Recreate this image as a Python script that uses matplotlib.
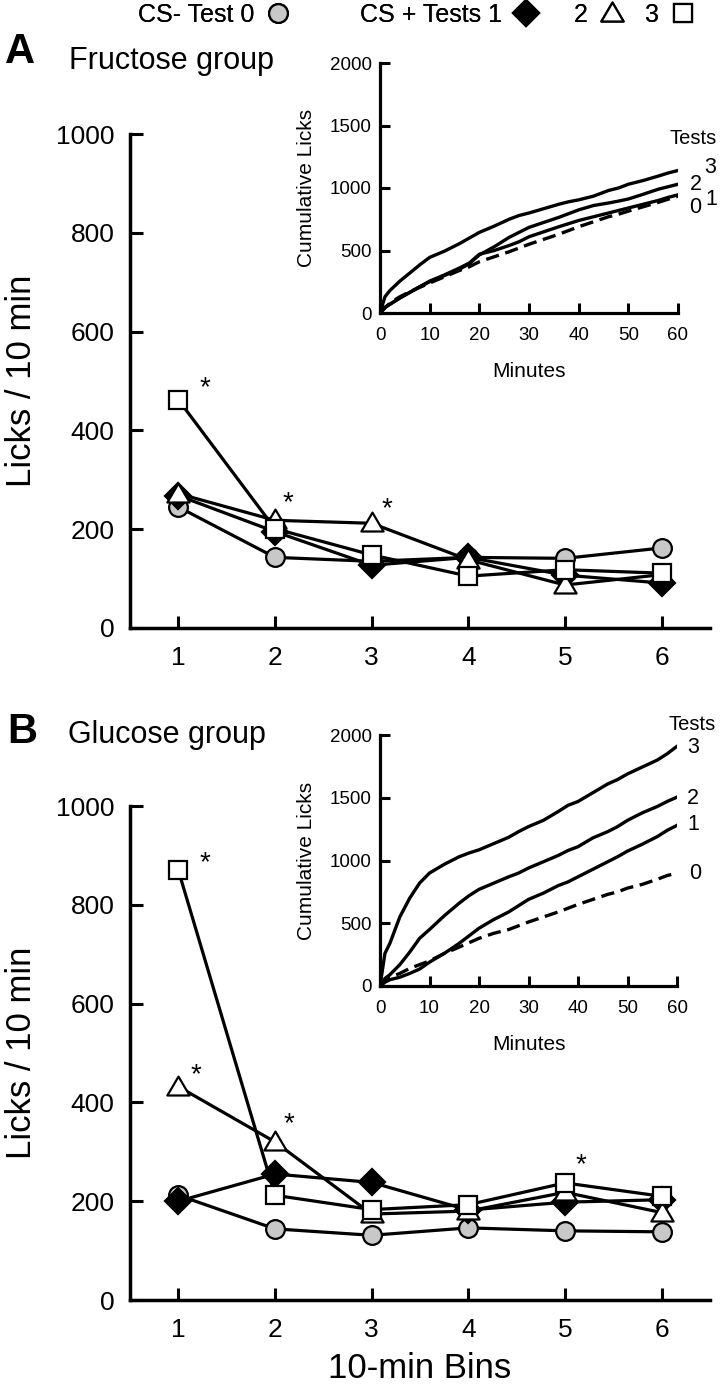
import matplotlib
matplotlib.use("Agg")
import matplotlib.pyplot as plt
from matplotlib.lines import Line2D
from matplotlib.path import Path

plt.rcParams["font.family"] = ["Liberation Sans", "DejaVu Sans"]

# ---- main panels: licks per 10-min bin ----
BINS = [1, 2, 3, 4, 5, 6]

fru_t0 = [245, 143, 135, 143, 141, 162]
fru_t1 = [268, 195, 127, 143, 107, 91]
fru_t2 = [272, 218, 212, 138, 87, 108]
fru_t3 = [462, 201, 148, 105, 118, 111]

glu_t0 = [212, 144, 131, 146, 140, 138]
glu_t1 = [200, 255, 238, 182, 198, 203]
glu_t2 = [432, 320, 174, 180, 218, 177]
glu_t3 = [870, 212, 183, 193, 237, 210]

# significance stars (bin, y)
fru_stars = [(1.27, 485), (2.13, 252), (3.16, 240)]
glu_stars = [(1.27, 885), (1.18, 455), (2.14, 355), (5.16, 272)]

# ---- insets: cumulative licks over 60 min ----
MINUTES = [0, 1, 2, 4, 6, 8, 10, 13, 16, 18, 20, 23, 26, 28, 30,
           33, 36, 38, 40, 43, 46, 48, 50, 53, 56, 58, 60]

fru_cum0 = [0, 40, 80, 130, 170, 205, 240, 290, 340, 370, 410, 450, 490, 520,
            550, 590, 630, 660, 690, 730, 770, 790, 815, 850, 885, 910, 935]
fru_cum1 = [0, 45, 70, 120, 165, 210, 255, 305, 360, 400, 470, 500, 540, 570,
            610, 650, 690, 715, 740, 770, 800, 820, 840, 870, 900, 925, 945]
fru_cum2 = [0, 45, 70, 120, 165, 210, 250, 300, 350, 395, 465, 530, 605, 645,
            685, 725, 765, 795, 825, 860, 880, 895, 912, 950, 990, 1010, 1030]
fru_cum3 = [0, 130, 180, 255, 320, 385, 445, 495, 555, 600, 645, 695, 750,
            780, 800, 835, 870, 890, 905, 935, 980, 1000, 1030, 1060, 1095,
            1120, 1140]

glu_cum0 = [0, 40, 70, 100, 140, 170, 200, 260, 310, 345, 380, 420, 450, 480,
            510, 550, 590, 620, 650, 690, 730, 750, 780, 810, 850, 880, 900]
glu_cum1 = [0, 30, 50, 70, 100, 135, 190, 260, 340, 400, 460, 530, 590, 640,
            690, 740, 800, 830, 870, 930, 990, 1030, 1075, 1130, 1190, 1240,
            1280]
glu_cum2 = [0, 60, 90, 170, 270, 380, 450, 560, 660, 720, 770, 820, 870, 900,
            940, 990, 1040, 1080, 1110, 1180, 1230, 1270, 1320, 1380, 1430,
            1470, 1505]
glu_cum3 = [0, 260, 340, 550, 700, 820, 900, 970, 1030, 1060, 1085, 1135,
            1185, 1230, 1270, 1320, 1390, 1440, 1470, 1540, 1610, 1645, 1690,
            1745, 1800, 1850, 1910]

# end labels for inset curves: (label, x, y)
fru_tags = [("3", 66.4, 1163), ("2", 63.6, 1028), ("1", 66.8, 908), ("0", 63.4, 845)]
glu_tags = [("3", 63.2, 1904), ("2", 63.2, 1498), ("1", 63.2, 1283), ("0", 63.6, 900)]

LEGEND_LABELS = ["CS- Test 0", "CS + Tests 1", "2", "3"]

W, H = 720, 1392
LW = 2.3
GREY = "#c8c8c8"
# wide, equilateral-ish open triangle
TRI = Path([(-1, -0.72), (1, -0.72), (0, 0.98), (-1, -0.72)], closed=True)
STYLES = [  # circle, diamond, triangle, square
    dict(marker="o", ms=13.5, mfc=GREY),
    dict(marker="D", ms=13, mfc="black"),
    dict(marker=TRI, ms=16, mfc="white"),
    dict(marker="s", ms=13, mfc="white"),
]


def box(x0, y0, x1, y1):
    """pixel box (top-left origin) -> figure fraction rect"""
    return [x0 / W, 1 - y1 / H, (x1 - x0) / W, (y1 - y0) / H]


def style_axes(ax, lw=2.5):
    for s in ("top", "right"):
        ax.spines[s].set_visible(False)
    for s in ("left", "bottom"):
        ax.spines[s].set_linewidth(lw)


def main_panel(ax, series, stars):
    for y, st in zip(series, STYLES):
        ax.plot(BINS, y, color="black", lw=LW, mec="black", mew=1.6, **st)
    for x, y in stars:
        ax.text(x, y, "*", fontsize=20, ha="center", va="center")
    ax.set_xlim(0.5, 6.5)
    ax.set_ylim(0, 1000)
    ax.set_xticks(BINS)
    ax.set_yticks(range(0, 1001, 200))
    style_axes(ax)
    ax.tick_params(direction="in", length=9, width=2.2, labelsize=19)
    ax.tick_params(axis="x", pad=13)
    ax.tick_params(axis="y", pad=11)
    ax.set_ylabel("Licks / 10 min", fontsize=25)
    ax.yaxis.set_label_coords(-0.158, 0.5)


def inset(ax, curves, tags):
    for i, y in enumerate(curves):
        if i == 0:
            ax.plot(MINUTES, y, color="black", lw=2.4, ls=(0, (4, 2)))
        else:
            ax.plot(MINUTES, y, color="black", lw=2.4)
    ax.set_xlim(0, 60)
    ax.set_ylim(0, 2000)
    ax.set_xticks(range(0, 61, 10))
    ax.set_yticks(range(0, 2001, 500))
    ax.patch.set_alpha(0)
    style_axes(ax, 2.3)
    ax.tick_params(direction="in", length=7, width=2.2, labelsize=13.5)
    ax.tick_params(axis="x", pad=10)
    ax.tick_params(axis="y", pad=6)
    ax.set_xlabel("Minutes", fontsize=15)
    ax.xaxis.set_label_coords(0.5, -0.195)
    ax.set_ylabel("Cumulative Licks", fontsize=15)
    ax.yaxis.set_label_coords(-0.215, 0.5)
    for t, x, y in tags:
        ax.text(x, y, t, fontsize=15.5, ha="center", va="center", clip_on=False)
    ax.text(63.0, tags[0][2] + 230, "Tests", fontsize=14.5, ha="center",
            va="center", clip_on=False)


fig = plt.figure(figsize=(W / 100, H / 100), dpi=100)

axA = fig.add_axes(box(130, 134, 710, 628))
main_panel(axA, [fru_t0, fru_t1, fru_t2, fru_t3], fru_stars)
axB = fig.add_axes(box(130, 806, 710, 1300))
main_panel(axB, [glu_t0, glu_t1, glu_t2, glu_t3], glu_stars)
axB.set_xlabel("10-min Bins", fontsize=25)
axB.xaxis.set_label_coords(0.5, -0.105)

insA = fig.add_axes(box(380, 63, 678, 313))
inset(insA, [fru_cum0, fru_cum1, fru_cum2, fru_cum3], fru_tags)
insB = fig.add_axes(box(380, 735, 677, 986))
inset(insB, [glu_cum0, glu_cum1, glu_cum2, glu_cum3], glu_tags)
insB.texts[-1].set_position((63.0, 2080))

# panel letters and titles
fig.text(5 / W, 1 - 63 / H, "A", fontsize=30, fontweight="bold", va="baseline")
fig.text(69 / W, 1 - 69 / H, "Fructose group", fontsize=22, va="baseline")
fig.text(7 / W, 1 - 743 / H, "B", fontsize=30, fontweight="bold", va="baseline")
fig.text(68 / W, 1 - 743 / H, "Glucose group", fontsize=22, va="baseline")

# legend across the top (text first, marker after), one entry per anchor
for st, lab, x0 in zip(STYLES, LEGEND_LABELS, [138, 360, 574, 645]):
    h = Line2D([], [], ls="none", mec="black", mew=1.6, **st)
    leg = fig.legend([h], [lab], loc="center left",
                     bbox_to_anchor=(x0 / W, 1 - 15 / H), frameon=False,
                     markerfirst=False, fontsize=18, handlelength=1.0,
                     handletextpad=0.45, borderpad=0, borderaxespad=0)
    fig.add_artist(leg)

fig.savefig("out.png", dpi=100)
